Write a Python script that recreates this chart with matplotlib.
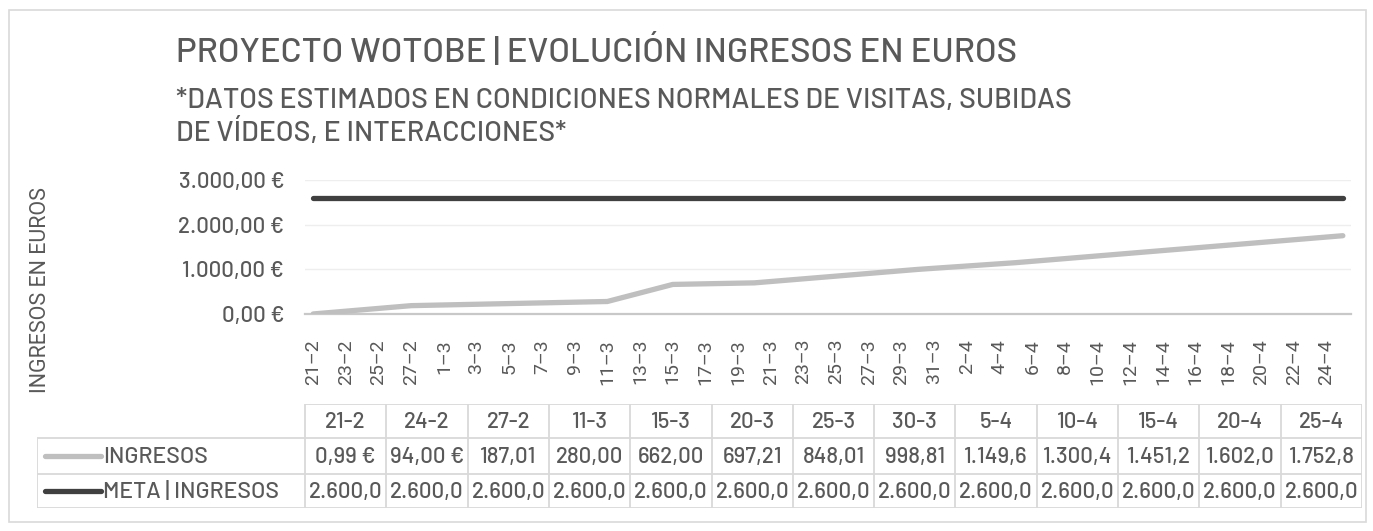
import numpy as np
import matplotlib
matplotlib.use("Agg")
import matplotlib.pyplot as plt
from matplotlib import font_manager as fm
from matplotlib.patches import Rectangle

# datos del grafico
fechas = ['21-2', '24-2', '27-2', '11-3', '15-3', '20-3', '25-3', '30-3',
          '5-4', '10-4', '15-4', '20-4', '25-4']
ingresos = [0.99, 94.00, 187.01, 280.00, 662.00, 697.21, 848.01, 998.81,
            1149.61, 1300.41, 1451.21, 1602.01, 1752.81]
meta = [2600.0] * 13
serie_nombres = ['INGRESOS', 'META | INGRESOS']
yticks = [0, 1000, 2000, 3000]

available = {f.name for f in fm.fontManager.ttflist}
din = 'DejaVu Sans'
for cand in ['Barlow Medium', 'Barlow', 'Roboto Condensed', 'Roboto']:
    if cand in available:
        din = cand
        break
plt.rcParams['font.family'] = [din, 'DejaVu Sans']
plt.rcParams['font.weight'] = 'medium'
SANS = ['Roboto', 'DejaVu Sans']

TXT = '#595959'
C_ING = '#bfbfbf'
C_META = '#404040'
W, H = 1373, 531
BASE = np.datetime64('2023-02-21')


def to_day(s):
    d, m = s.split('-')
    return (np.datetime64('2023-%02d-%02d' % (int(m), int(d))) - BASE).astype(int)


def euro(v):
    s = '{:,.2f}'.format(v).replace(',', 'X').replace('.', ',').replace('X', '.')
    return s + ' €'


x = np.array([to_day(f) for f in fechas])
ndays = to_day('25-4') + 1

fig = plt.figure(figsize=(W / 100, H / 100), dpi=100)
fig.patches.append(Rectangle((9 / W, 1 - 522 / H), 1357 / W, 512 / H, transform=fig.transFigure,
                             fill=False, edgecolor='#d9d9d9', lw=1.2))

fig.text(176 / W, 1 - 52 / H, 'PROYECTO WOTOBE | EVOLUCIÓN INGRESOS EN EUROS',
         fontsize=25, color=TXT, va='center')
fig.text(176 / W, 1 - 101 / H, '*DATOS ESTIMADOS EN CONDICIONES NORMALES DE VISITAS, SUBIDAS',
         fontsize=20.5, color=TXT, va='center')
fig.text(176 / W, 1 - 133 / H, 'DE VÍDEOS, E INTERACCIONES*',
         fontsize=20.5, color=TXT, va='center')
fig.text(41 / W, 1 - 290 / H, 'INGRESOS EN EUROS', rotation=90, fontsize=15.5,
         color=TXT, va='center', ha='center', family=SANS, weight='normal')

ax = fig.add_axes([305 / W, 1 - 314 / H, 1046 / W, 134 / H])
ax.plot(x, ingresos, color=C_ING, lw=3.8, solid_capstyle='round', zorder=3)
ax.plot(x, meta, color=C_META, lw=3.8, solid_capstyle='round', zorder=3)
ax.set_xlim(-0.5, ndays - 0.5)
ax.set_ylim(0, 3000)
ax.set_yticks(yticks)
ax.set_yticklabels([euro(v) for v in yticks], fontsize=16, color=TXT)
ticks = np.arange(0, ndays, 2)
tick_dates = [(BASE + int(t)).astype(object) for t in ticks]
ax.set_xticks(ticks)
ax.set_xticklabels(['%d–%d' % (d.day, d.month) for d in tick_dates], rotation=90,
                   fontsize=14, color=TXT, family=SANS, weight='normal')
ax.tick_params(length=0)
ax.tick_params(axis='x', pad=18)
ax.tick_params(axis='y', pad=15)
ax.grid(axis='y', color='#eeeeee', lw=1)
ax.set_axisbelow(True)
for s in ['top', 'right', 'left']:
    ax.spines[s].set_visible(False)
ax.spines['bottom'].set_color('#c8c8c8')
ax.spines['bottom'].set_linewidth(1.6)

# tabla de datos
tax = fig.add_axes([37 / W, 1 - 508 / H, 1325 / W, 104 / H])
tax.set_xlim(0, 1325)
tax.set_ylim(104, 0)
tax.axis('off')
lab_w = 268
col_w = (1325 - lab_w) / len(fechas)
rows = [0, 34, 70, 104]
gc = '#d9d9d9'
tax.hlines(rows[0], lab_w, 1325, color=gc, lw=1.3)
tax.hlines(rows[1:], 0, 1325, color=gc, lw=1.3)
tax.vlines(0, rows[1], rows[3], color=gc, lw=1.3)
for k in range(len(fechas) + 1):
    tax.vlines(lab_w + k * col_w, rows[0], rows[3], color=gc, lw=1.3)
for k, f in enumerate(fechas):
    cx = lab_w + (k + 0.5) * col_w
    tax.text(cx, 18, f, ha='center', va='center', fontsize=16, color=TXT)
    tax.text(cx, 53, euro(ingresos[k])[:7].rstrip(), ha='center', va='center', fontsize=16, color=TXT)
    tax.text(cx, 88, euro(meta[k])[:7].rstrip(), ha='center', va='center', fontsize=16, color=TXT)
for yy, name, c in [(52, serie_nombres[0], C_ING), (87, serie_nombres[1], C_META)]:
    tax.plot([8, 64], [yy, yy], color=c, lw=3.8, solid_capstyle='round')
    tax.text(66, yy + 1, name, ha='left', va='center', fontsize=16.5, color=TXT)

fig.savefig('out.png', dpi=100)
